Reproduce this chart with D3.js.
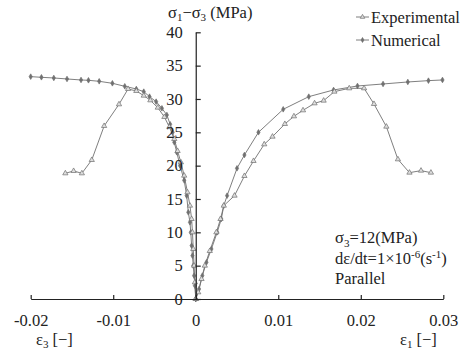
<!DOCTYPE html>
<html>
<head>
<meta charset="utf-8">
<script src="https://cdn.jsdelivr.net/npm/d3@7"></script>
<style>
  body { margin: 0; background: #fff; }
</style>
</head>
<body>
<div id="chart"></div>
<script>
const xTicks = [-0.02, -0.01, 0, 0.01, 0.02, 0.03];
const yTicks = [0, 5, 10, 15, 20, 25, 30, 35, 40];

// [strain, deviatoric stress]
const expRight = [
  [0, 0], [0.0003, 1], [0.0007, 3], [0.0011, 5], [0.0017, 7.2], [0.0025, 10],
  [0.003, 12], [0.0034, 14], [0.0047, 15.5], [0.0059, 18.45], [0.007, 20.7],
  [0.0083, 23.2], [0.0093, 24.35], [0.0108, 26.25], [0.0119, 27.4], [0.013, 28.3],
  [0.0144, 29.35], [0.0155, 29.75], [0.0168, 31.1], [0.0186, 31.6], [0.0204, 31.6],
  [0.0216, 29.25], [0.0231, 25.85], [0.0245, 20.95], [0.0259, 18.95], [0.0273, 19.25],
  [0.0285, 18.95]
];
const expLeft = [
  [0, 0], [-0.0001, 2.5], [-0.0002, 5], [-0.0003, 7.5], [-0.0004, 10], [-0.0005, 12],
  [-0.0007, 14], [-0.001, 16], [-0.0014, 18.5], [-0.0018, 20.5], [-0.0022, 22.2],
  [-0.0026, 24], [-0.0032, 25.8], [-0.0038, 27.3], [-0.0046, 28.7], [-0.0055, 29.8],
  [-0.0063, 30.5], [-0.0072, 31.2], [-0.0082, 31.5], [-0.0093, 29.2], [-0.0111, 25.95],
  [-0.0126, 20.85], [-0.0138, 18.85], [-0.0148, 19.2], [-0.0158, 18.85]
];
const numRight = [
  [0, 0], [0.0004, 1.5], [0.0008, 3.5], [0.0013, 5.5], [0.0019, 7.5], [0.0026, 10],
  [0.0031, 12], [0.0034, 14], [0.0038, 15.5], [0.005, 19.6], [0.0059, 21.6],
  [0.0076, 25], [0.0106, 28.45], [0.0137, 30.35], [0.0167, 31.35], [0.0196, 31.95],
  [0.0227, 32.25], [0.0257, 32.55], [0.0282, 32.75], [0.0299, 32.85]
];
const numLeft = [
  [0, 0], [-0.0001, 2], [-0.0002, 3.5], [-0.0003, 5], [-0.0004, 6.5], [-0.0005, 8],
  [-0.0006, 10], [-0.0007, 11.5], [-0.0009, 13], [-0.0011, 15.5], [-0.0014, 17.8],
  [-0.0019, 20], [-0.0023, 22], [-0.0026, 23.5], [-0.0028, 25], [-0.0031, 26.2],
  [-0.0035, 27.6], [-0.0041, 28.6], [-0.0048, 29.6], [-0.0056, 30.35], [-0.0063, 31.1],
  [-0.0072, 31.5], [-0.0086, 31.9], [-0.0101, 32.35], [-0.0117, 32.65], [-0.013, 32.8],
  [-0.0139, 32.85], [-0.0156, 33], [-0.0172, 33.15], [-0.0187, 33.25], [-0.02, 33.35]
];

const width = 463;
const height = 354;
const lineColor = '#707070';

const svg = d3.select('#chart').append('svg')
  .attr('width', width)
  .attr('height', height);

const x = d3.scaleLinear().domain([-0.02, 0.03]).range([30.7, 443.3]);
const y = d3.scaleLinear().domain([0, 40]).range([299, 32.3]);

const line = d3.line().x(d => x(d[0])).y(d => y(d[1]));

const series = [
  { data: numLeft, symbol: d3.symbolDiamond, size: 9, fill: lineColor },
  { data: numRight, symbol: d3.symbolDiamond, size: 9, fill: lineColor },
  { data: expLeft, symbol: d3.symbolTriangle, size: 12, fill: '#ddd' },
  { data: expRight, symbol: d3.symbolTriangle, size: 12, fill: '#ddd' }
];

series.forEach(s => {
  svg.append('path')
    .datum(s.data)
    .attr('fill', 'none')
    .attr('stroke', lineColor)
    .attr('stroke-width', 0.9)
    .attr('d', line);
  svg.append('g').selectAll('path')
    .data(s.data)
    .enter()
    .append('path')
    .attr('transform', d => `translate(${x(d[0])},${y(d[1])})`)
    .attr('d', d3.symbol().type(s.symbol).size(s.size))
    .attr('fill', s.fill)
    .attr('stroke', lineColor)
    .attr('stroke-width', 0.7);
});

// axes
const xAxis = d3.axisBottom(x)
  .tickValues(xTicks)
  .tickSizeInner(-4)
  .tickSizeOuter(0)
  .tickPadding(15)
  .tickFormat(d => d === 0 ? '0' : d.toFixed(2));

const yAxis = d3.axisLeft(y)
  .tickValues(yTicks)
  .tickSizeInner(-5)
  .tickSizeOuter(0)
  .tickPadding(13);

const gx = svg.append('g').attr('transform', `translate(0,${y(0)})`).call(xAxis);
const gy = svg.append('g').attr('transform', `translate(${x(0)},0)`).call(yAxis);

[gx, gy].forEach(g => {
  g.selectAll('path, line').attr('stroke', '#222').attr('stroke-width', 1.2);
});

// axis titles
const yTitle = svg.append('text').attr('x', 168).attr('y', 18);
yTitle.append('tspan').text('σ');
yTitle.append('tspan').style('font-size', '11px').attr('dy', 3).text('1');
yTitle.append('tspan').attr('dy', -3).text('−σ');
yTitle.append('tspan').style('font-size', '11px').attr('dy', 3).text('3');
yTitle.append('tspan').attr('dy', -3).text(' (MPa)');

const e3 = svg.append('text').attr('x', 36).attr('y', 345);
e3.append('tspan').text('ε');
e3.append('tspan').style('font-size', '11px').attr('dy', 3).text('3');
e3.append('tspan').attr('dy', -3).text(' [−]');

const e1 = svg.append('text').attr('x', 400).attr('y', 345);
e1.append('tspan').text('ε');
e1.append('tspan').style('font-size', '11px').attr('dy', 3).text('1');
e1.append('tspan').attr('dy', -3).text(' [−]');

// test conditions
const a1 = svg.append('text').attr('x', 335).attr('y', 243);
a1.append('tspan').text('σ');
a1.append('tspan').style('font-size', '11px').attr('dy', 4).text('3');
a1.append('tspan').attr('dy', -4).text('=12(MPa)');

const a2 = svg.append('text').attr('x', 335).attr('y', 264);
a2.append('tspan').text('dε/dt=1×10');
a2.append('tspan').style('font-size', '11px').attr('dy', -6).text('-6');
a2.append('tspan').attr('dy', 6).text('(s');
a2.append('tspan').style('font-size', '11px').attr('dy', -6).text('-1');
a2.append('tspan').attr('dy', 6).text(')');

svg.append('text').attr('x', 335).attr('y', 284).text('Parallel');

// legend
const legendItems = [
  { label: 'Experimental', symbol: d3.symbolTriangle, size: 9, fill: '#ddd', y: 17 },
  { label: 'Numerical', symbol: d3.symbolDiamond, size: 7, fill: lineColor, y: 40 }
];
const lg = svg.append('g');
legendItems.forEach(it => {
  lg.append('line')
    .attr('x1', 356).attr('x2', 369)
    .attr('y1', it.y).attr('y2', it.y)
    .attr('stroke', lineColor).attr('stroke-width', 0.9);
  lg.append('path')
    .attr('transform', `translate(362.5,${it.y})`)
    .attr('d', d3.symbol().type(it.symbol).size(it.size))
    .attr('fill', it.fill).attr('stroke', lineColor).attr('stroke-width', 0.7);
  lg.append('text')
    .attr('x', 371).attr('y', it.y + 5.5)
    .text(it.label);
});

// serif everywhere, set as inline style so the axis defaults don't win
svg.selectAll('text')
  .style('font-family', '"Liberation Serif", serif')
  .style('fill', '#222')
  .each(function () {
    if (!this.style.fontSize) this.style.fontSize = '16.5px';
  });
</script>
</body>
</html>
